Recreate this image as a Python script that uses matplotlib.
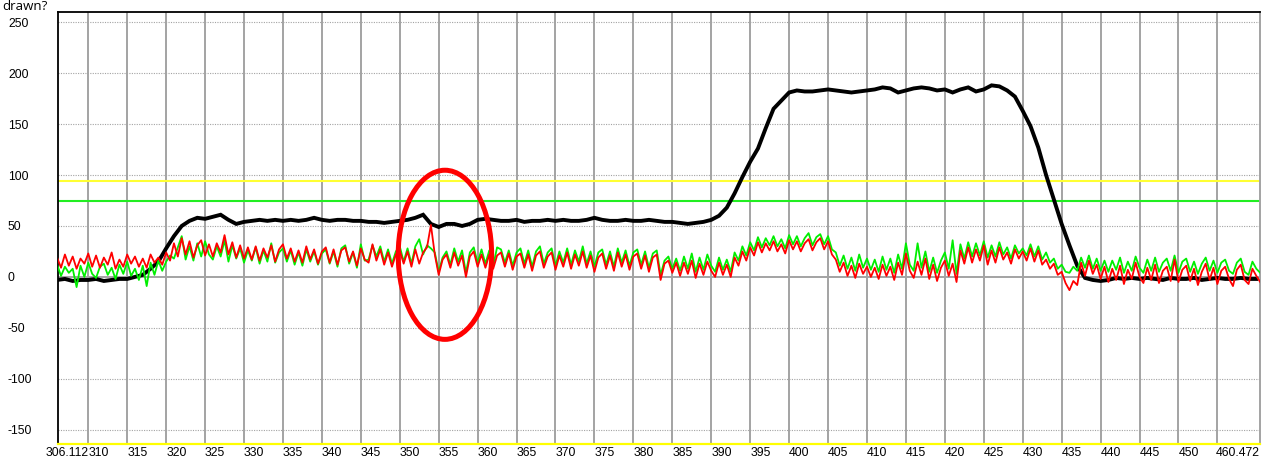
import numpy as np
import matplotlib
matplotlib.use("Agg")
import matplotlib.pyplot as plt
from matplotlib.patches import Ellipse

# ---------------- data ----------------
x_start, x_end = 306.112, 460.472
y_min, y_max = -164, 260

yellow_level = 94.0
green_level = 74.5

# black trace, one value per unit from 306 to 460
black_x = np.arange(306, 461, 1.0)
black_y = [
    -3, -2, -4, -3, -3, -2, -4, -3, -2, -2,
    0, 2, 8, 15, 28, 40, 50, 55, 58, 57,
    59, 61, 56, 52, 54, 55, 56, 55, 56, 55,
    56, 55, 56, 58, 56, 55, 56, 56, 55, 55,
    54, 54, 53, 54, 55, 56, 58, 61, 52, 49,
    52, 52, 50, 52, 56, 57, 56, 55, 55, 56,
    54, 55, 55, 56, 55, 56, 55, 55, 56, 58,
    56, 55, 55, 56, 55, 55, 56, 55, 54, 54,
    53, 52, 53, 54, 56, 60, 68, 82, 98, 113,
    126, 146, 165, 173, 181, 183, 182, 182, 183, 184,
    183, 182, 181, 182, 183, 184, 186, 185, 181, 183,
    185, 186, 185, 183, 184, 181, 184, 186, 182, 184,
    188, 187, 183, 177, 163, 148, 127, 100, 76, 52,
    31, 11, -1, -3, -4, -3, -1, -2, -1, -2,
    -1, -2, -3, -1, -2, -2, -1, -3, -2, -1,
    -2, -2, -1, -2, -2,
]

# noisy traces, one value per half unit from 306.0 to 460.5
noise_x = np.arange(306.0, 461.0, 0.5)
red_y = [
    19, 9, 22, 11, 20, 8, 18, 13, 23, 10,
    21, 9, 19, 12, 24, 8, 17, 10, 22, 13,
    20, 10, 18, 9, 22, 14, 19, 12, 24, 16,
    33, 20, 38, 22, 35, 19, 31, 36, 21, 32,
    20, 33, 24, 41, 22, 34, 19, 31, 18, 29,
    17, 30, 16, 28, 19, 31, 15, 27, 32, 18,
    28, 15, 26, 14, 30, 17, 27, 13, 25, 29,
    14, 27, 12, 26, 29, 15, 25, 11, 28, 17,
    14, 32, 16, 27, 12, 24, 10, 22, 26, 13,
    25, 10, 27, 13, 24, 29, 51, 22, 2, 17,
    22, 9, 24, 11, 21, 0, 20, 25, 10, 22,
    9, 22, 8, 21, 24, 10, 23, 7, 20, 23,
    9, 22, 6, 21, 25, 9, 20, 24, 7, 21,
    10, 24, 8, 22, 11, 25, 9, 21, 5, 19,
    23, 8, 21, 6, 24, 10, 22, 7, 20, 23,
    8, 21, 5, 19, 22, -3, 13, 16, 4, 14,
    1, 14, 3, 16, -1, 13, 2, 15, 6, 0,
    14, 2, 12, 0, 19, 11, 25, 16, 29, 21,
    34, 24, 33, 26, 35, 25, 32, 23, 36, 27,
    35, 25, 33, 37, 26, 34, 38, 27, 35, 22,
    17, 5, 14, 1, 11, -1, 13, 3, 10, 0,
    9, -2, 12, 1, 10, -3, 14, 2, 23, 6,
    -1, 15, 2, 18, -2, 12, -4, 9, 16, 1,
    13, -5, 26, 13, 29, 14, 27, 16, 31, 12,
    26, 14, 29, 17, 24, 13, 27, 18, 25, 16,
    28, 15, 26, 12, 17, 8, 13, 2, 5, -6,
    -13, -4, -8, 14, 1, 16, 3, 12, -2, 10,
    -5, 8, -3, 11, -7, 7, -2, 14, 0, -6,
    9, -3, 12, -6, 6, 10, -4, 17, -5, 7,
    11, -4, 8, -8, 5, 13, -3, 9, -7, 6,
    10, -2, -9, 7, 12, -3, -7, 8, 1, -5,
]
green_y = [
    12, 1, 10, 4, 8, -10, 11, 0, 14, 3,
    -1, 10, 13, 2, 9, -2, 12, 3, 15, 1,
    8, -3, 11, -9, 14, 2, 16, 6, 15, 21,
    18, 29, 40, 17, 30, 16, 33, 20, 35, 22,
    17, 30, 20, 36, 15, 31, 18, 28, 14, 26,
    16, 29, 13, 26, 15, 33, 14, 24, 28, 15,
    26, 12, 24, 11, 27, 15, 25, 12, 23, 27,
    13, 25, 10, 28, 31, 13, 24, 9, 32, 16,
    17, 31, 20, 30, 15, 27, 13, 25, 30, 15,
    28, 13, 30, 37, 22, 31, 28, 24, 5, 19,
    25, 12, 28, 15, 26, 4, 24, 29, 14, 27,
    13, 26, 11, 29, 27, 14, 26, 11, 24, 28,
    13, 26, 10, 25, 30, 13, 24, 28, 11, 25,
    14, 28, 12, 26, 15, 30, 13, 25, 10, 24,
    27, 12, 25, 10, 28, 14, 26, 11, 24, 27,
    12, 25, 9, 23, 26, 2, 16, 20, 8, 18,
    6, 20, 8, 23, 5, 19, 7, 22, 11, 5,
    19, 7, 17, 5, 24, 16, 30, 21, 34, 26,
    39, 29, 38, 31, 40, 30, 37, 28, 41, 32,
    40, 30, 38, 43, 31, 39, 42, 32, 40, 27,
    24, 11, 21, 8, 19, 6, 22, 9, 18, 7,
    17, 5, 20, 7, 18, 4, 22, 8, 33, 12,
    6, 33, 9, 25, 5, 19, 4, 16, 24, 8,
    36, 3, 32, 18, 34, 20, 33, 21, 35, 19,
    31, 20, 34, 22, 29, 18, 31, 23, 28, 21,
    32, 20, 30, 17, 24, 14, 18, 8, 12, 5,
    4, 10, 6, 19, 9, 21, 8, 18, 6, 16,
    5, 16, 7, 19, 4, 15, 6, 20, 9, 4,
    17, 6, 19, 5, 14, 18, 6, 21, 4, 15,
    18, 5, 15, 3, 13, 19, 6, 16, 4, 14,
    17, 6, 3, 14, 18, 5, 2, 15, 8, 4,
]

x_ticks = list(range(310, 456, 5))
x_tick_labels = [str(v) if v != 455 else "" for v in x_ticks]
y_ticks = list(range(-150, 251, 50))
y_tick_labels = [str(v) for v in y_ticks]
first_label, last_label = "306.112", "460.472"
heading = "drawn?"

# circle annotation (data units)
ring_center = (355.8, 21.7)
ring_width, ring_height = 12.0, 166.0

# ---------------- figure ----------------
W, H = 1272, 459
fig = plt.figure(figsize=(W / 100, H / 100), dpi=100)
ax = fig.add_axes([58 / W, 15 / H, 1202 / W, 432 / H])
ax.set_xlim(x_start, x_end)
ax.set_ylim(y_min, y_max)

font = "Liberation Sans"
fs = 8.8

ax.set_xticks(x_ticks)
ax.set_xticklabels(x_tick_labels, ha="left", fontsize=fs, family=font)
ax.set_yticks(y_ticks)
ax.set_yticklabels(y_tick_labels, ha="left", fontsize=fs, family=font)
ax.tick_params(axis="x", length=0, pad=2)
ax.tick_params(axis="y", length=0, pad=36)

grid_col = "#a3a3a3"
for xv in x_ticks:
    ax.axvline(xv, color=grid_col, lw=1.4, zorder=1)
for yv in y_ticks:
    if yv == 0:
        ax.axhline(yv, color=grid_col, lw=1.4, zorder=1)
    else:
        ax.axhline(yv, color=grid_col, lw=0.8, ls=(0, (1, 1.2)), zorder=1)

ax.annotate(first_label, xy=(x_start, 0), xycoords=("data", "axes fraction"),
            xytext=(9, -3), textcoords="offset pixels", ha="center", va="top",
            fontsize=fs, family=font)
ax.annotate(last_label, xy=(x_end, 0), xycoords=("data", "axes fraction"),
            xytext=(0, -3), textcoords="offset pixels", ha="right", va="top",
            fontsize=fs, family=font)

ax.axhline(yellow_level, color="#ffff33", lw=1.5, zorder=2)
ax.axhline(green_level, color="#22ee22", lw=1.5, zorder=2)

ax.plot(black_x, black_y, color="black", lw=2.8, zorder=3, solid_joinstyle="miter")
ax.plot(noise_x, green_y, color="#00ee00", lw=1.3, zorder=4)
ax.plot(noise_x, red_y, color="#ff0000", lw=1.3, zorder=5)

ax.add_patch(Ellipse(ring_center, ring_width, ring_height, fill=False,
                     ec="#ff0000", lw=3.6, zorder=6))

for side in ("left", "top"):
    ax.spines[side].set_color("black")
    ax.spines[side].set_linewidth(1.3)
ax.spines["bottom"].set_color("#ffff00")
ax.spines["bottom"].set_linewidth(1.6)
ax.spines["right"].set_color(grid_col)
ax.spines["right"].set_linewidth(1.4)

fig.text(2 / W, 1 - 10.5 / H, heading, ha="left", va="baseline", fontsize=9.5,
         family="Open Sans")

fig.savefig("out.png", dpi=100)
